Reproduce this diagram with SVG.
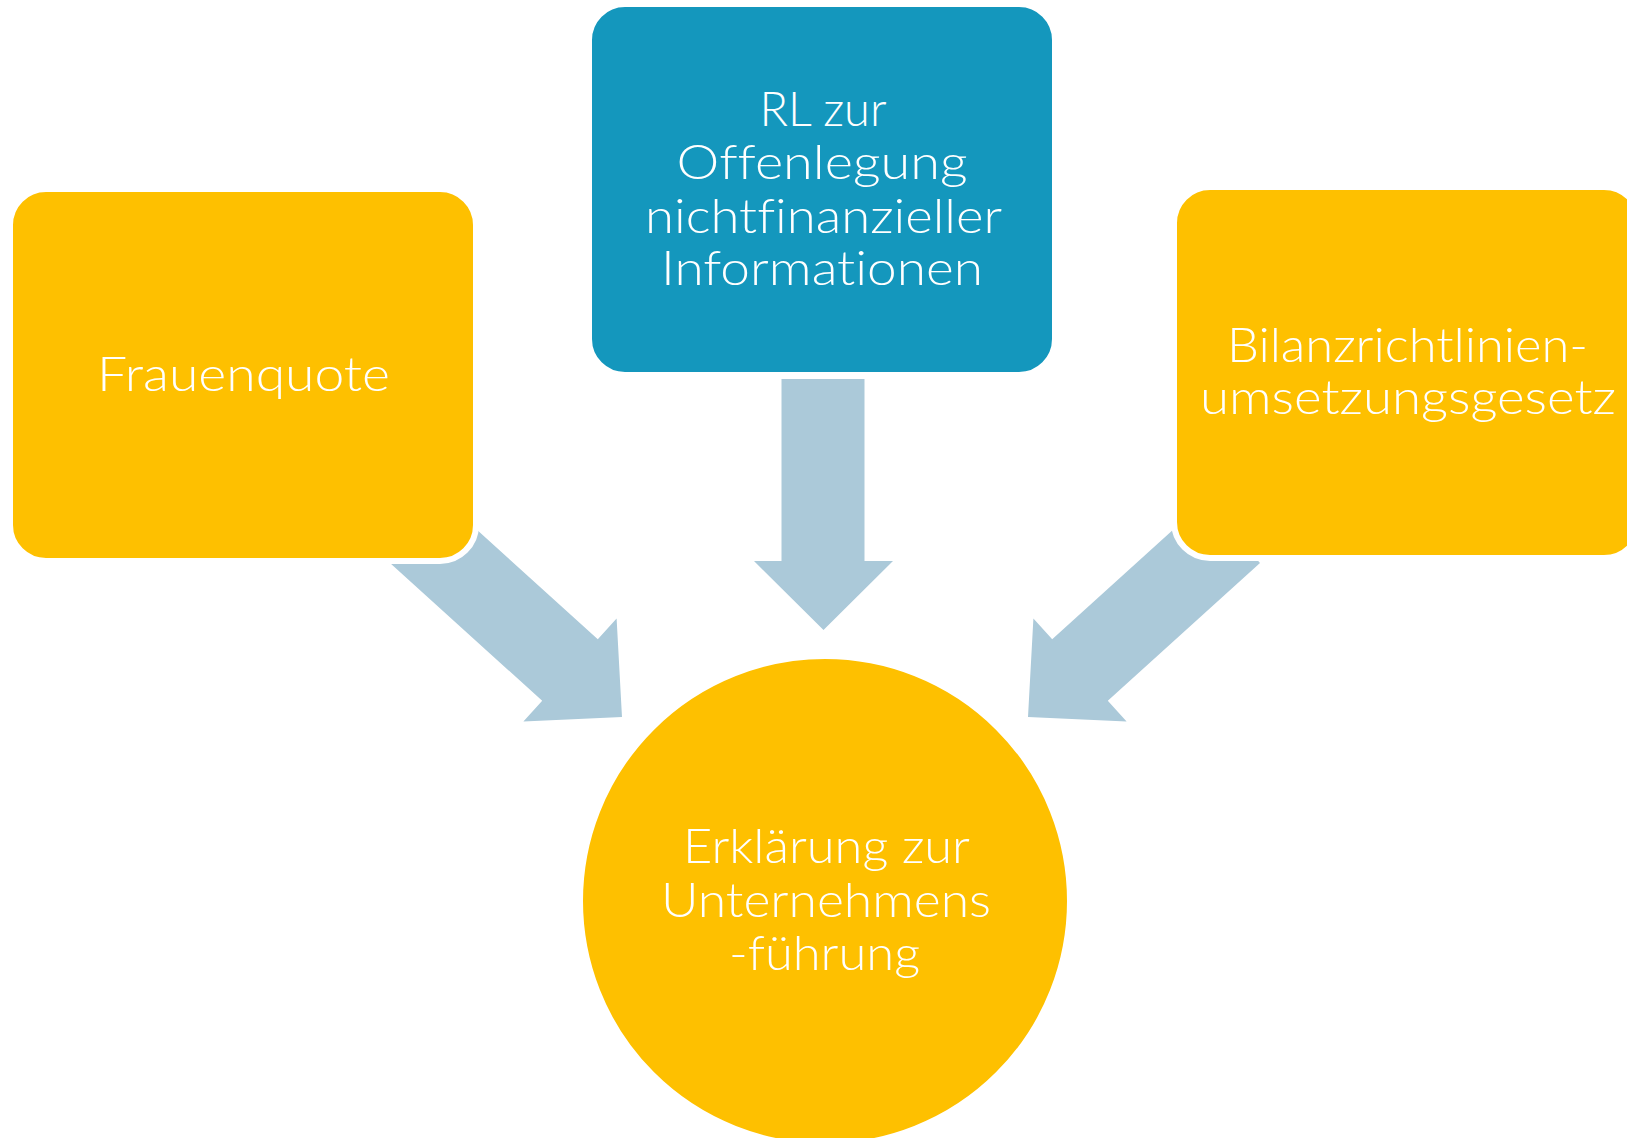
<svg xmlns="http://www.w3.org/2000/svg" width="1627" height="1138" viewBox="0 0 1627 1138">
  <style>
    .box { stroke: #ffffff; stroke-width: 6; }
    .gold { fill: #fec000; }
    .teal { fill: #1497bd; }
    .arrow { fill: #abc9d9; }
    .label { font-family: "Lato", "Open Sans", "DejaVu Sans", sans-serif; font-weight: 300; font-size: 48px; fill: #ffffff; text-anchor: middle; font-variant-ligatures: none; font-feature-settings: "liga" 0, "dlig" 0; }
  </style>
  <rect width="1627" height="1138" fill="#ffffff"/>

  <!-- block arrows pointing at the central circle -->
  <g id="connectors">
    <polygon class="arrow" points="390,563 445.6,501.4 597.8,639.2 616.6,618.4 622,717 523.4,721.6 542.2,700.8"/>
    <polygon class="arrow" points="781.5,379 864.5,379 864.5,561 893,561 823.5,630 754,561 781.5,561"/>
    <polygon class="arrow" points="1260,563 1204.4,501.4 1052.2,639.2 1033.4,618.4 1028,717 1126.6,721.6 1107.8,700.8"/>
  </g>

  <g id="frauenquote">
    <rect class="box gold" x="10" y="189" width="466" height="372" rx="36"/>
    <text class="label" x="243.5" y="391" textLength="293" lengthAdjust="spacingAndGlyphs">Frauenquote</text>
  </g>

  <g id="rl-offenlegung">
    <rect class="box teal" x="589" y="4" width="466" height="371" rx="36"/>
    <text class="label" x="823" y="126" textLength="127" lengthAdjust="spacingAndGlyphs">RL zur</text>
    <text class="label" x="822" y="179" textLength="291" lengthAdjust="spacingAndGlyphs">Offenlegung</text>
    <text class="label" x="823.5" y="233" textLength="357" lengthAdjust="spacingAndGlyphs">nichtfinanzieller</text>
    <text class="label" x="822" y="285" textLength="322" lengthAdjust="spacingAndGlyphs">Informationen</text>
  </g>

  <g id="bilanzrichtlinien">
    <rect class="box gold" x="1174" y="187" width="466" height="371" rx="36"/>
    <text class="label" x="1407.5" y="362" textLength="361" lengthAdjust="spacingAndGlyphs">Bilanzrichtlinien-</text>
    <text class="label" x="1408" y="414" textLength="416" lengthAdjust="spacingAndGlyphs">umsetzungsgesetz</text>
  </g>

  <g id="erklaerung">
    <circle class="box gold" cx="825" cy="901" r="245"/>
    <text class="label" x="826.5" y="863" textLength="287" lengthAdjust="spacingAndGlyphs">Erklärung zur</text>
    <text class="label" x="826" y="917" textLength="330" lengthAdjust="spacingAndGlyphs">Unternehmens</text>
    <text class="label" x="824.5" y="970" textLength="191" lengthAdjust="spacingAndGlyphs">-führung</text>
  </g>
</svg>
